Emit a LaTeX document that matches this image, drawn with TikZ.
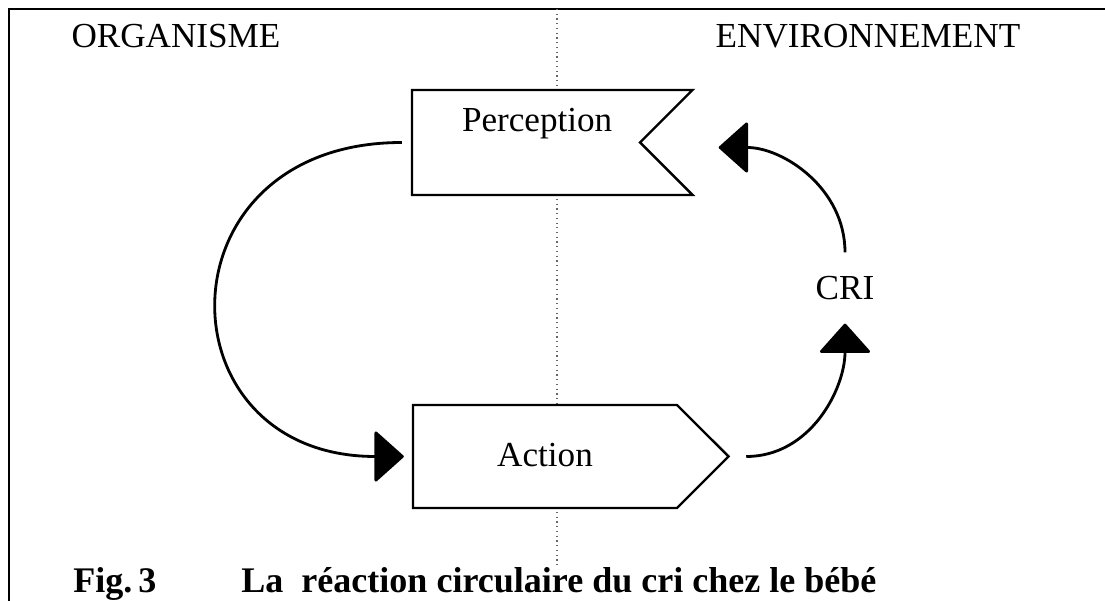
\documentclass[tikz,border=0pt]{standalone}
\usepackage{fontspec}
\setmainfont{Liberation Serif}
\usetikzlibrary{shapes.symbols,arrows.meta}

\begin{document}
\begin{tikzpicture}[
    font=\fontsize{20}{24}\selectfont,
    box/.style={draw, signal, fill=white, line width=1.4pt, inner sep=0pt, signal pointer angle=90},
    boucle/.style={line width=1.6pt, -{Triangle[length=0.6cm,width=1.06cm,round]}}
  ]
  \useasboundingbox (0, 0) rectangle (22.1, -12.02);
  \draw[line width=1.2pt] (0.18, -12.02) -- (0.18, -0.18) -- (22.1, -0.18);
  \draw[black!60, dotted, line width=0.7pt] (11.14, -0.18) -- (11.14, -11.3);

  \node (org) at (3.52, -0.73) {ORGANISME};
  \node (env) at (17.36, -0.73) {ENVIRONNEMENT};

  \node[box, signal to=nowhere, signal from=east, text width=4.56cm, align=left, text height=0.84cm, text depth=1.26cm]
    (perc) at (10.52, -2.85) {\hspace*{1cm}Perception};
  \node[box, signal to=east, text width=5.28cm, align=center, text height=1.24cm, text depth=0.82cm]
    (act) at (10.9, -9.13) {Action};
  \node[inner sep=0.47cm] (cri) at (16.9, -5.76) {CRI};

  \draw[boucle] ([xshift=-0.18cm]perc.west) to[out=180, in=180, looseness=2] ([xshift=-0.16cm]act.west);
  \draw[boucle] (cri.north) to[out=90, in=0] ([xshift=1.54cm, yshift=-0.1cm]perc.east);
  \draw[boucle] ([xshift=0.32cm]act.east) to[out=0, in=-90] (cri.south);

  \node[anchor=base west, inner sep=0pt, font=\fontsize{20.5}{24}\selectfont\bfseries] (legende) at (1.46, -11.86)
    {Fig.\,3\hspace*{1.7cm}La\ \ réaction circulaire du cri chez le bébé};
\end{tikzpicture}
\end{document}
